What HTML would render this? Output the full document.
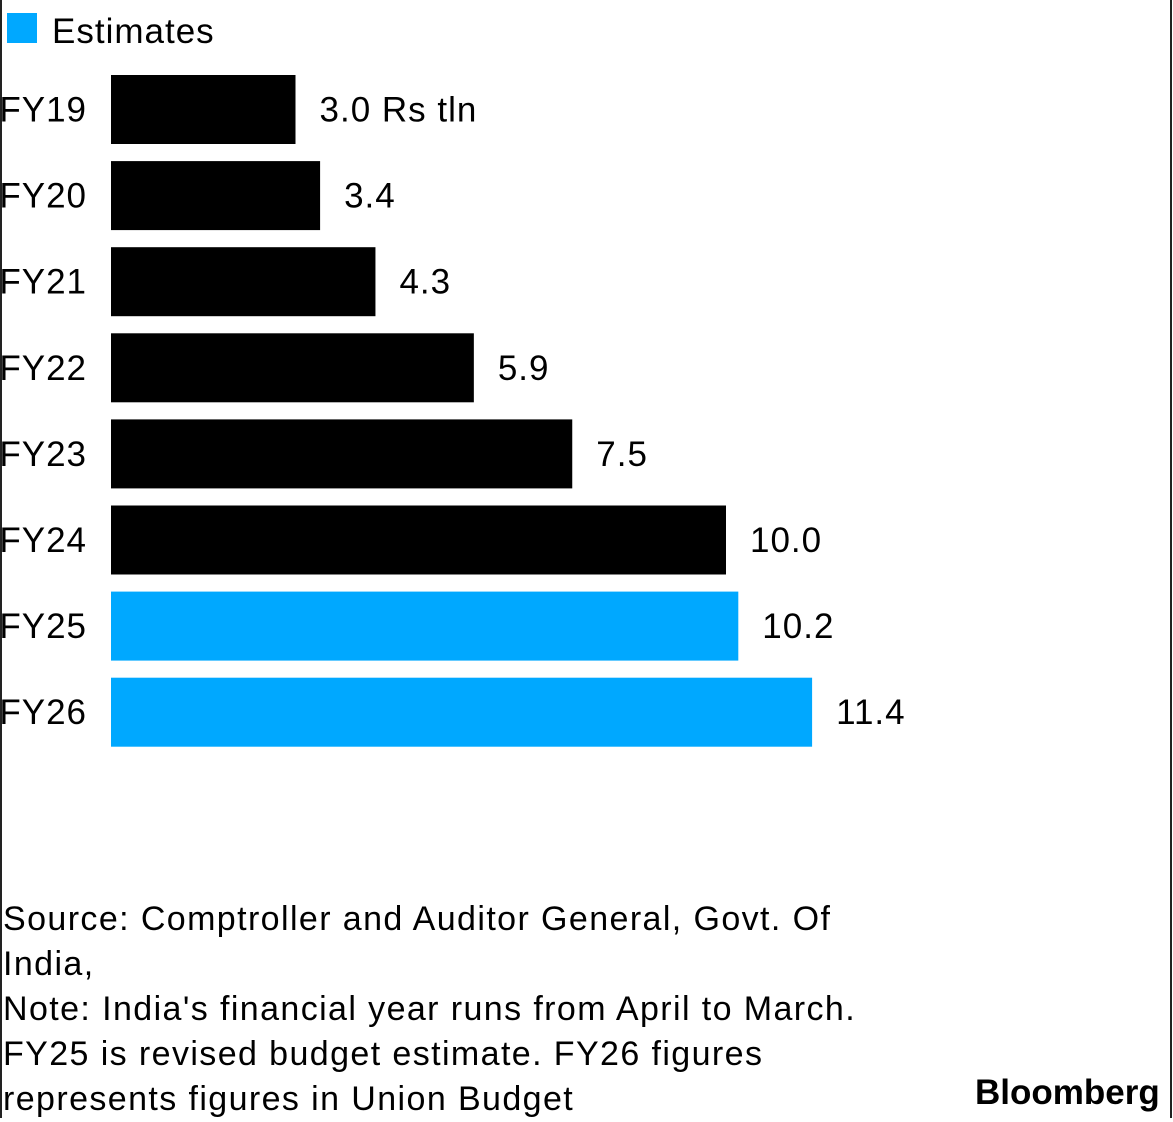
<!DOCTYPE html>
<html><head><meta charset="utf-8"><style>
html,body{margin:0;padding:0;background:#fff;}
body{width:1173px;height:1118px;position:relative;overflow:hidden;font-family:"Liberation Sans",sans-serif;color:#000;}
#lb{position:absolute;left:0;top:0;width:2px;height:1118px;background:#222;}
#rb{position:absolute;left:1170px;top:0;width:2px;height:1118px;background:#222;}
.foot{position:absolute;left:3px;font-size:34px;line-height:45px;letter-spacing:1.4px;white-space:nowrap;}
</style></head><body>
<div id="lb"></div>
<div id="rb"></div>
<svg id="chart" width="1173" height="880" style="position:absolute;left:0;top:0">
<g>
<rect x="7" y="13" width="30" height="30" fill="#00a8ff"></rect>
<text x="52" y="43" font-size="35" letter-spacing="1" font-family="Liberation Sans, sans-serif">Estimates</text>
</g>
<g id="bars"></g>
</svg>
<div class="foot" style="top:897px">Source: Comptroller and Auditor General, Govt. Of<br>India,<br>Note: India's financial year runs from April to March.<br>FY25 is revised budget estimate. FY26 figures<br>represents figures in Union Budget</div>
<div style="position:absolute;left:975px;top:1073px;font-size:35px;font-weight:bold;">Bloomberg</div>
<script>
const categories=["FY19","FY20","FY21","FY22","FY23","FY24","FY25","FY26"];
const values=[3.0,3.4,4.3,5.9,7.5,10.0,10.2,11.4];
const isEstimate=[false,false,false,false,false,false,true,true];
const valueLabels=["3.0 Rs tln","3.4","4.3","5.9","7.5","10.0","10.2","11.4"];
const x0=111,scale=61.5,top0=75,step=86.1,bh=69;
const xs=v=>x0+v*scale;
const ys=i=>top0+i*step;
const g=document.getElementById('bars');
const NS="http://www.w3.org/2000/svg";
categories.forEach((c,i)=>{
  const r=document.createElementNS(NS,'rect');
  r.setAttribute('x',x0);r.setAttribute('y',ys(i));
  r.setAttribute('width',xs(values[i])-x0);r.setAttribute('height',bh);
  r.setAttribute('fill',isEstimate[i]?'#00a8ff':'#000');
  
  
  g.appendChild(r);
  const t=document.createElementNS(NS,'text');
  t.setAttribute('x',87);t.setAttribute('y',ys(i)+bh/2+12);
  t.setAttribute('text-anchor','end');t.setAttribute('font-size','35');
  t.setAttribute('letter-spacing','1');
  t.textContent=c;
  
  
  g.appendChild(t);
  const v=document.createElementNS(NS,'text');
  v.setAttribute('x',xs(values[i])+24);v.setAttribute('y',ys(i)+bh/2+12);
  v.setAttribute('font-size','35');
  v.setAttribute('letter-spacing','1');
  v.textContent=valueLabels[i];
  
  
  g.appendChild(v);
});
</script>
</body></html>
